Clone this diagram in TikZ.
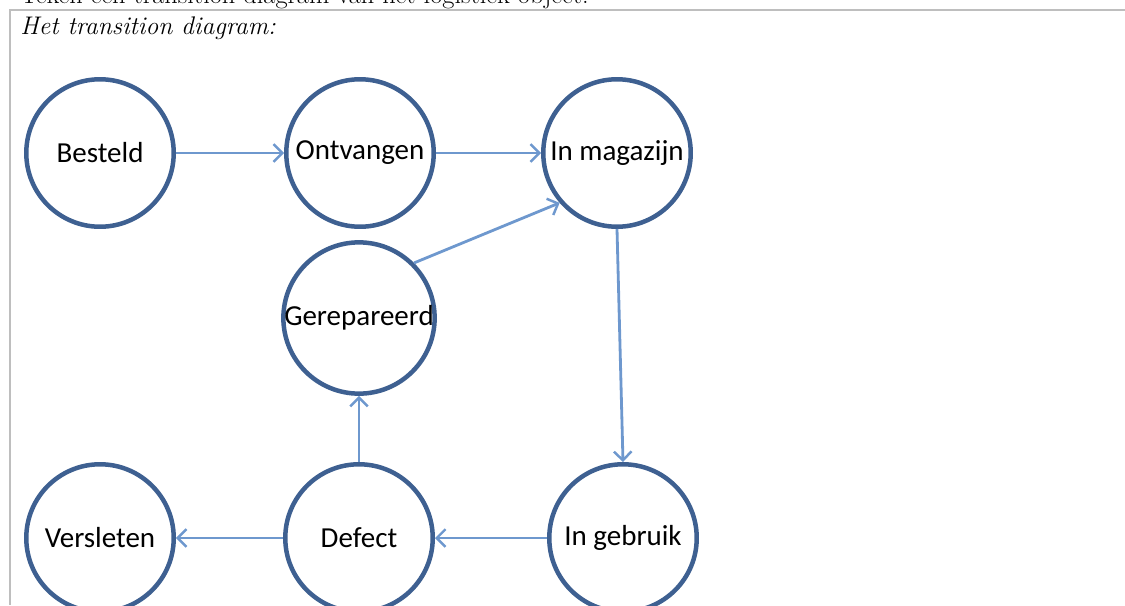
\documentclass[tikz,border=0pt]{standalone}
\usepackage{fontspec}
\usetikzlibrary{arrows.meta}
\newfontfamily\statefont{Carlito}
\definecolor{ringblue}{RGB}{62,96,145}
\definecolor{lineblue}{RGB}{110,152,206}
\definecolor{framegray}{RGB}{190,190,190}

\begin{document}
\begin{tikzpicture}[x=0.02cm, y=-0.02cm,
    state/.style={circle, draw=ringblue, line width=0.09cm, fill=white,
      minimum size=2.95cm, inner sep=0pt, font=\statefont\fontsize{16.5}{19}\selectfont},
    trans/.style={draw=lineblue, line width=1.6pt,
      -{Straight Barb[length=5pt, width=10pt, line width=1.4pt]}}]
  \useasboundingbox (0,0) rectangle (1125,605);
  \clip (0,0) rectangle (1125,605);
  % frame of the table cell
  \draw[framegray, line width=1.2pt] (1125,10) -- (10,10) -- (10,605);
  \node[anchor=base west, inner sep=0pt, font=\fontsize{15}{17}\selectfont] (task) at (20,4)
    {Teken een transition diagram van het logistiek object.};
  \node[anchor=base west, inner sep=0pt, font=\fontsize{14.5}{17}\selectfont\itshape] (title) at (20,34)
    {Het transition diagram:};
  % states
  \node[state] (besteld)     at (100,153) {Besteld};
  \node[state] (ontvangen)   at (360,153) {Ontvangen};
  \node[state] (magazijn)    at (617,153) {In magazijn};
  \node[state] (gerepareerd) at (359,318) {Gerepareerd};
  \node[state] (versleten)   at (100,538) {Versleten};
  \node[state] (defect)      at (359,538) {Defect};
  \node[state] (gebruik)     at (623,538) {In gebruik};
  % transitions
  \draw[trans] (besteld) -- (ontvangen);
  \draw[trans] (ontvangen) -- (magazijn);
  \draw[trans] (gerepareerd.45) -- (magazijn.221);
  \draw[trans] (magazijn.south) -- (gebruik.north);
  \draw[trans] (gebruik) -- (defect);
  \draw[trans] (defect) -- (gerepareerd);
  \draw[trans] (defect) -- (versleten);
\end{tikzpicture}
\end{document}
